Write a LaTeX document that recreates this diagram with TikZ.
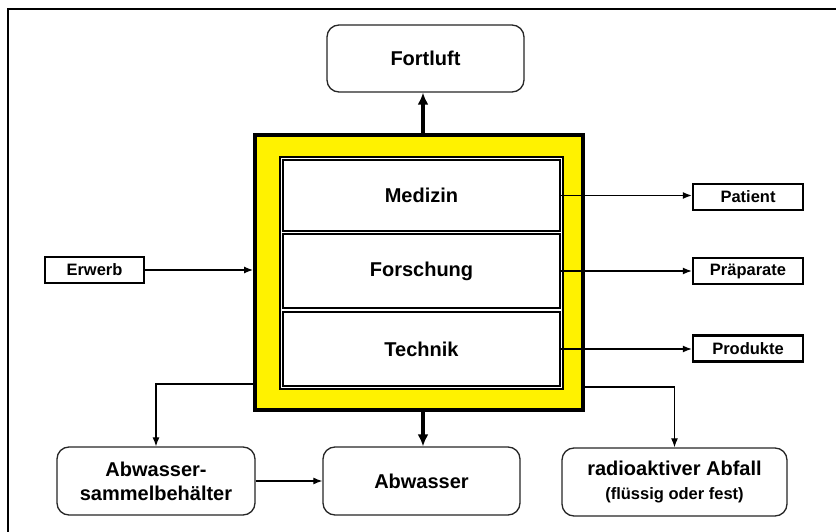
\documentclass[tikz,border=0pt]{standalone}
\usepackage{fontspec}
\setmainfont{Liberation Sans}
\usetikzlibrary{arrows.meta}
\begin{document}
\begin{tikzpicture}[x=1bp,y=-1bp,
  rbox/.style={draw=black!85, line width=1.3bp, rounded corners=12bp, fill=white, align=center,
    font=\bfseries\fontsize{20bp}{24bp}\selectfont, inner sep=0pt, minimum height=68bp},
  sbox/.style={draw, line width=2.5bp, font=\bfseries\fontsize{16.5bp}{19bp}\selectfont,
    minimum height=26bp, inner sep=0pt},
  subbox/.style={draw, line width=1.6bp, fill=white, minimum width=277bp,
    font=\bfseries\fontsize{20bp}{24bp}\selectfont, inner sep=0pt},
  conn/.style={line width=1.2bp, -{Latex[length=9bp,width=7bp]}},
  bigarrow/.style={line width=4bp, -{Latex[length=12bp,width=11bp]}}]
\useasboundingbox (0,0) rectangle (836,532);
% frame (left and top edges)
\draw[line width=2.5bp] (8,532) -- (8,9) -- (836,9);
% top box
\node[rbox, minimum width=197bp, minimum height=67bp] (fort) at (425.5,58.5) {Fortluft};
% central yellow block
\node[draw, line width=4bp, fill=yellow, minimum width=328bp, minimum height=275bp, inner sep=0pt] (yel) at (419,272.5) {};
\node[draw, line width=1.2bp, fill=white, minimum width=283bp, minimum height=232bp, inner sep=0pt] (inner) at (421.5,273) {};
\node[subbox, minimum height=71bp] (med) at (421.5,195.5) {Medizin};
\node[subbox, minimum height=74bp] (for) at (421.5,271) {Forschung};
\node[subbox, minimum height=74bp] (tec) at (421.5,349) {Technik};
% side boxes
\node[sbox, minimum width=99bp] (erw) at (94.5,270) {Erwerb};
\node[sbox, minimum width=110bp] (pat) at (748,197) {Patient};
\node[sbox, minimum width=110bp] (pra) at (748,271) {Präparate};
\node[sbox, minimum width=110bp] (pro) at (748,348.5) {Produkte};
% bottom boxes
\node[rbox, minimum width=198bp] (sam) at (156,481) {Abwasser-\\sammelbehälter};
\node[rbox, minimum width=197bp] (abw) at (421.5,481) {Abwasser};
\node[rbox, minimum width=225bp] (rad) at (674.5,482) {radioaktiver Abfall\\{\fontsize{16.5bp}{24bp}\selectfont (flüssig oder fest)}};
% helper coordinates
\coordinate (cx) at (423,0);
\coordinate (yl) at (0,384);
\coordinate (yr) at (0,387);
% connectors
\draw[bigarrow] (yel.north -| cx) -- (fort.south -| cx);
\draw[bigarrow] (yel.south -| cx) -- (abw.north -| cx);
\draw[conn] (erw.east) -- (erw.east -| yel.west);
\draw[conn] (med.east) -- (med.east -| pat.west);
\draw[conn] (for.east) -- (for.east -| pra.west);
\draw[conn] (tec.east) -- (tec.east -| pro.west);
\draw[conn] (yel.west |- yl) -| (sam.north);
\draw[conn] (yel.east |- yr) -| (rad.north);
\draw[conn] (sam.east) -- (abw.west);
\end{tikzpicture}
\end{document}
